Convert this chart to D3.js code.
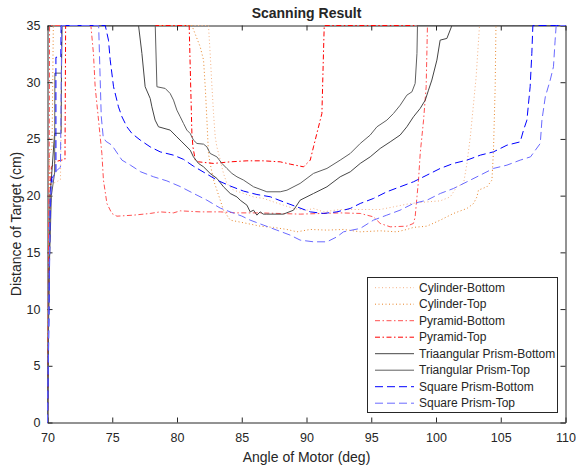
<!DOCTYPE html>
<html>
<head>
<meta charset="utf-8">
<script src="https://cdn.jsdelivr.net/npm/d3@7"></script>
<style>
  body { margin: 0; background: #fff; }
  svg { display: block; }
  text { font-family: "Liberation Sans", Arial, Helvetica, sans-serif; fill: #262626; }
</style>
</head>
<body>
<svg id="chart" width="576" height="468"></svg>
<script>
// ---- data: [angle (deg), distance (cm)] per scan ----
const xTicks = [70, 75, 80, 85, 90, 95, 100, 105, 110];
const yTicks = [0, 5, 10, 15, 20, 25, 30, 35];

const cylinderBottom = [[70,0],[70.05,6],[70.1,12],[70.2,18],[70.3,21],[71.0,21.4],[71.05,25.5],[71.1,35],
  [82.43,35],[82.56,32.54],[82.7,29.6],[82.82,27.25],[82.95,25.19],[83.08,24.3],[83.34,23.13],[83.59,21.96],
  [83.85,21.08],[84.36,20.49],[85.14,20.19],[85.91,19.89],[86.68,19.75],[87.45,19.45],[88.22,19.16],[89.0,18.87],
  [90.03,18.72],[90.54,18.87],[91.31,18.57],[92.6,18.78],[94.15,18.78],[95.69,18.78],[96.72,19.01],[97.75,19.25],
  [98.53,19.37],[99.3,19.45],[100.33,19.54],[101.1,19.89],[101.61,20.78],[102.13,21.08],[102.39,22.84],
  [102.65,25.19],[102.9,28.13],[103.1,30.48],[103.36,35],[110,35]];

const cylinderTop = [[70,0],[70.05,8],[70.1,15],[70.15,23.7],[70.35,24.2],[70.45,35],
  [81.15,35],[81.79,33.12],[82.05,31.95],[82.18,29.6],[82.31,26.66],[82.43,23.72],[82.56,22.84],[82.82,21.37],
  [83.08,20.49],[83.34,19.6],[83.59,18.72],[84.11,17.84],[85.4,17.55],[86.42,17.31],[87.45,17.2],[88.49,17.02],
  [89.26,16.81],[90.29,17.02],[91.58,16.96],[92.86,17.02],[94.15,16.81],[95.69,16.9],[96.98,16.81],[97.75,17.02],
  [98.26,17.2],[99.3,17.31],[100.33,17.84],[101.35,18.43],[102.39,18.87],[102.9,19.31],[103.16,19.89],
  [103.28,20.49],[103.93,20.78],[104.32,21.37],[104.44,24.01],[104.5,26.66],[104.57,29.6],[104.63,35],[110,35]];

const pyramidBottom = [[70,0],[70.05,10],[70.1,20],[70.13,23],[70.16,35],
  [73.35,35],[73.55,32.5],[73.68,29.6],[73.94,26.66],[74.2,23.7],[74.32,21.37],[74.59,19.3],[74.97,18.43],
  [75.36,18.19],[76.64,18.28],[77.93,18.43],[78.7,18.57],[79.73,18.48],[80.25,18.66],[81.79,18.57],[83.34,18.57],
  [84.63,18.48],[86.43,18.48],[89.51,18.37],[92.6,18.48],[94.15,18.43],[95.17,18.13],[95.69,17.55],[96.46,17.25],
  [97.75,17.31],[98.26,17.55],[98.39,18.13],[98.53,19.9],[98.65,21.37],[98.78,23.72],[99.04,26.66],[99.24,29.6],
  [99.34,35],[110,35]];

const pyramidTop = [[70,0],[70.1,12],[70.2,20],[70.3,22.5],[70.6,23],[71.35,23.2],[71.4,35],
  [80.94,35],[81.15,25.48],[81.23,24.3],[81.41,23.13],[81.66,22.98],[82.82,22.84],[84.11,22.98],[85.4,23.07],
  [86.68,23.07],[87.97,22.98],[88.74,22.78],[89.77,22.54],[90.29,23.13],[90.54,24.3],[90.8,25.48],[91.06,26.66],
  [91.19,27.25],[91.31,32.54],[91.37,35],[110,35]];

const triPrismBottom = [[70,0],[70.1,10],[70.2,20],[70.3,21.5],[70.55,25.5],[71.05,25.5],[71.1,35],
  [77.03,35],[77.29,32.54],[77.54,29.6],[77.93,28.57],[78.06,27.83],[78.31,26.66],[78.57,26.07],[79.47,25.78],
  [79.99,25.18],[80.38,24.74],[81.02,24.01],[81.27,23.42],[81.66,22.84],[82.05,22.54],[82.56,21.96],[83.08,21.52],
  [83.59,20.78],[84.11,20.19],[84.63,19.89],[84.88,19.6],[85.4,19.16],[85.65,18.57],[85.91,18.72],[86.17,18.28],
  [86.42,18.57],[86.66,18.37],[86.94,18.37],[88.22,18.37],[89.0,18.72],[89.51,19.6],[90.54,20.19],[91.58,20.78],
  [92.6,21.66],[93.38,22.1],[94.15,22.84],[94.92,23.42],[95.69,24.16],[96.46,24.74],[97.23,25.34],[97.75,26.07],
  [98.26,26.95],[98.78,27.69],[99.17,28.42],[99.42,29.3],[99.68,30.19],[100.07,31.95],[100.32,33.71],
  [100.84,33.86],[101.23,35],[110,35]];

const triPrismTop = [[70,0],[70.1,12],[70.3,20],[70.55,22],[70.57,30.8],[71.08,30.8],[71.12,35],
  [78.32,35],[78.45,29.6],[79.09,29.45],[79.47,29.01],[79.73,28.42],[79.99,27.54],[80.25,26.95],[80.5,26.37],
  [80.76,25.78],[81.02,25.48],[81.27,24.9],[81.54,24.6],[82.05,24.54],[82.31,24.3],[82.56,23.72],[83.08,23.42],
  [83.47,22.84],[83.85,22.4],[84.24,21.96],[84.63,21.66],[85.14,21.37],[85.91,20.78],[86.94,20.34],[87.97,20.34],
  [88.49,20.48],[89.51,21.08],[90.54,21.96],[91.58,22.4],[92.6,23.13],[93.38,23.72],[94.15,24.6],[94.92,25.34],
  [95.44,26.07],[96.21,26.66],[96.72,27.25],[97.24,27.98],[97.75,28.86],[98.14,29.15],[98.39,29.89],
  [98.53,32.54],[98.57,35],[110,35]];

const squarePrismBottom = [[70,0],[70.1,8],[70.2,18],[70.3,21.5],[70.65,22],[70.65,32.2],[71.03,32.2],[71.05,35],
  [74.46,35],[74.71,33.7],[74.84,31.98],[75.1,29.6],[75.48,27.83],[75.75,26.95],[76.13,26.07],[76.52,25.48],
  [77.16,24.9],[77.93,24.3],[78.7,23.86],[79.73,23.57],[80.5,23.2],[81.27,22.6],[82.31,21.9],[83.08,21.37],
  [84.11,20.85],[85.14,20.4],[86.17,20.1],[87.2,19.9],[88.22,19.45],[89.26,19.01],[90.29,18.57],[91.31,18.43],
  [92.35,18.57],[93.38,18.87],[94.15,19.31],[95.17,19.75],[96.2,20.34],[97.23,20.78],[98.26,21.22],[99.3,21.81],
  [100.33,22.4],[101.35,22.84],[102.39,23.13],[103.42,23.57],[104.44,23.86],[105.48,24.45],[106.5,24.74],
  [106.76,25.78],[107.02,26.66],[107.27,29.6],[107.4,32.54],[107.48,35],[110,35]];

const squarePrismTop = [[70,0],[70.1,10],[70.2,20],[70.5,22],[71.0,22.5],[71.1,35],
  [73.95,35],[74.05,31],[74.15,27],[74.3,25.2],[74.5,24.8],[74.97,24.45],[75.75,23.13],[76.4,22.69],[77.2,22.1],
  [78.2,21.66],[79.22,21.3],[80.25,20.8],[81.27,20.2],[82.31,19.6],[83.34,18.9],[84.11,18.57],[85.0,18.2],
  [85.65,17.84],[86.68,17.4],[87.71,16.96],[88.74,16.52],[89.51,16.08],[90.54,15.93],[91.58,15.93],[92.35,16.37],
  [92.86,16.81],[94.15,17.11],[95.17,17.84],[96.2,18.28],[97.23,18.72],[98.26,19.31],[99.3,19.6],[100.33,20.19],
  [101.35,20.63],[102.39,21.22],[103.42,21.81],[104.44,22.4],[105.48,22.69],[106.5,23.13],[107.3,23.42],
  [108.05,24.6],[108.18,26.66],[108.44,28.71],[108.82,30.19],[109.07,31.36],[109.2,33.71],[109.28,35],[110,35]];

const seriesNames = ["Cylinder-Bottom", "Cylinder-Top", "Pyramid-Bottom", "Pyramid-Top",
  "Triaangular Prism-Bottom", "Triangular Prism-Top", "Square Prism-Bottom", "Square Prism-Top"];
const seriesData = [cylinderBottom, cylinderTop, pyramidBottom, pyramidTop,
  triPrismBottom, triPrismTop, squarePrismBottom, squarePrismTop];

// ---- styles ----
const seriesColors = ["#F4B183", "#E8862A", "#FF5050", "#FF0000", "#454545", "#5F5F5F", "#0000FF", "#6A6AFF"];
const dotted = "1,2.5", dashDot = "5,2.5,1.5,2.5", dashed = "8,4";
const seriesDash = [dotted, dotted, dashDot, dashDot, null, null, dashed, dashed];

const svg = d3.select("#chart");
const axisColor = "#262626";

const x = d3.scaleLinear().domain([70, 110]).range([47.5, 565.5]);
const y = d3.scaleLinear().domain([0, 35]).range([422.5, 25.5]);

// ---- axes (ticks point inward, box on all sides) ----
function styleAxis(g) {
  g.selectAll("path.domain").attr("stroke", axisColor).attr("stroke-width", 1);
  g.selectAll(".tick line").attr("stroke", axisColor).attr("stroke-width", 1);
  g.selectAll(".tick text").attr("fill", axisColor).style("font-size", "12.5px")
    .style("font-family", '"Liberation Sans", Arial, sans-serif');
}

svg.append("g").attr("transform", `translate(0,${y(0)})`)
  .call(d3.axisBottom(x).tickValues(xTicks).tickFormat(d3.format("d"))
    .tickSizeInner(-5).tickSizeOuter(0).tickPadding(10.5))
  .call(styleAxis);
svg.append("g").attr("transform", `translate(0,${y(35)})`)
  .call(d3.axisTop(x).tickValues(xTicks).tickFormat("").tickSizeInner(-5).tickSizeOuter(0))
  .call(styleAxis);
svg.append("g").attr("transform", `translate(${x(70)},0)`)
  .call(d3.axisLeft(y).tickValues(yTicks).tickFormat(d3.format("d"))
    .tickSizeInner(-5).tickSizeOuter(0).tickPadding(7))
  .call(styleAxis);
svg.append("g").attr("transform", `translate(${x(110)},0)`)
  .call(d3.axisRight(y).tickValues(yTicks).tickFormat("").tickSizeInner(-5).tickSizeOuter(0))
  .call(styleAxis);

// ---- scan lines ----
const line = d3.line().x(d => x(d[0])).y(d => y(d[1]));
seriesData.forEach((data, i) => {
  svg.append("path")
    .datum(data)
    .attr("d", line)
    .attr("fill", "none")
    .attr("stroke", seriesColors[i])
    .attr("stroke-width", 1)
    .attr("stroke-dasharray", seriesDash[i]);
});

// ---- titles ----
svg.append("text").attr("x", (x(70) + x(110)) / 2).attr("y", 18)
  .attr("text-anchor", "middle").style("font-size", "14px").style("font-weight", "bold")
  .text("Scanning Result");
svg.append("text").attr("x", (x(70) + x(110)) / 2).attr("y", 461.5)
  .attr("text-anchor", "middle").style("font-size", "14px")
  .text("Angle of Motor (deg)");
svg.append("text")
  .attr("transform", `translate(21,${(y(0) + y(35)) / 2}) rotate(-90)`)
  .attr("text-anchor", "middle").style("font-size", "14px")
  .text("Distance of Target (cm)");

// ---- legend ----
const legend = svg.append("g");
legend.append("rect").attr("x", 367.5).attr("y", 277.5).attr("width", 190).attr("height", 135)
  .attr("fill", "#fff").attr("stroke", axisColor).attr("stroke-width", 1);
seriesNames.forEach((name, i) => {
  const cy = 287.7 + i * 16.5;
  legend.append("line").attr("x1", 375).attr("x2", 414).attr("y1", cy).attr("y2", cy)
    .attr("stroke", seriesColors[i]).attr("stroke-width", 1).attr("stroke-dasharray", seriesDash[i]);
  legend.append("text").attr("x", 419).attr("y", cy).attr("dy", "0.35em")
    .style("font-size", "12px").text(name);
});
</script>
</body>
</html>
